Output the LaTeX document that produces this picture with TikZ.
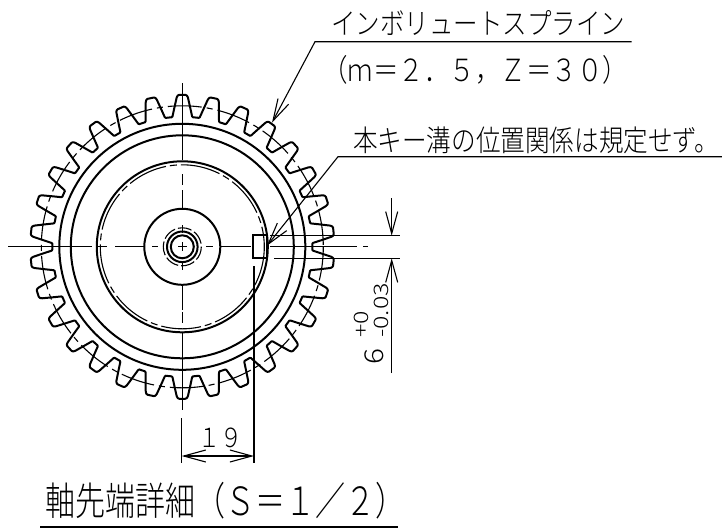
\documentclass[tikz,border=0pt]{standalone}
\usepackage{fontspec}
\usetikzlibrary{arrows.meta}
\newfontfamily\jpfont{Noto Sans CJK JP Light}
\tikzset{
	thick line/.style={line width=2pt},
	thin line/.style={line width=1.1pt},
	dim arrow/.style={thin line,-{Straight Barb[length=22pt,width=12pt]}},
	label text/.style={inner sep=0pt,font=\jpfont\fontsize{25.5}{25.5}\selectfont,yscale=1.2},
	small text/.style={inner sep=0pt,rotate=90,xscale=1.25,anchor=west,font=\jpfont\fontsize{20}{20}\selectfont},
}
\begin{document}
\begin{tikzpicture}[x=1pt,y=-1pt]
	\useasboundingbox (0,0) rectangle (722,531);
	\coordinate (hub) at (182.3,246.8);

	\begin{scope}[shift={(hub)}]
		\draw [thick line,rounded corners=.8pt,line join=round] (82.9:130)
			\foreach \t in {0,...,29} {
				-- ({90+12*\t-4.4}:130) -- ({90+12*\t-3.3}:139) -- ({90+12*\t-2.1}:150) -- ({90+12*\t-1.5}:152)
				-- ({90+12*\t+1.5}:152) -- ({90+12*\t+2.1}:150) -- ({90+12*\t+3.3}:139) -- ({90+12*\t+4.4}:130)
				-- ({90+12*\t+7.1}:130)
			} -- cycle;
		\draw [thin line,dash pattern=on 34pt off 5pt on 6pt off 5pt] (0,0) circle (141);
		\draw [thick line] (0,0) circle (123);
		\draw [thick line] (0,0) circle (111.5);
		\draw [thick line] (0,0) circle (85.5);
		\draw [thin line,dash pattern=on 40pt off 4pt on 7pt off 4pt] (0,0) circle (82);
		\draw [thick line] (0,0) circle (38);
		\draw [thin line,dash pattern=on 14pt off 3pt] (0,0) circle (19);
		\draw [thick line] (0,0) circle (15.3);
		\draw [thick line] (0,0) circle (11.5);
	\end{scope}

	\foreach \a/\b in {8/92,98/107,115/144,152/158,178/187,206/213,221/251,270/357,363/368}
		\draw [thin line] (\a,246.8) -- (\b,246.8);
	\foreach \a/\b in {83/160,174/185,190/209,225/233,242/251,262/270,285/310,312/323,332/410}
		\draw [thin line] (182.3,\a) -- (182.3,\b);

	\node [draw,thick line,minimum width=14pt,minimum height=23pt,inner sep=0pt] (keyslot) at (260.2,246.8) {};

	\node [label text,anchor=south,font=\jpfont\fontsize{24.5}{24.5}\selectfont] (splinename) at (478,36) {インボリュートスプライン};
	\node [label text] (splinedata) at (475,70) {（ｍ＝２．５，Ｚ＝３０）};
	\node [label text,anchor=south west,font=\jpfont\fontsize{24.6}{24.6}\selectfont] (keynote) at (352.8,154) {本キー溝の位置関係は規定せず。};
	\node [label text,font=\jpfont\fontsize{22}{22}\selectfont] (pitchdim) at (220,438) {１９};
	\node [inner sep=0pt,rotate=90,xscale=1.15,font=\jpfont\fontsize{26}{26}\selectfont] (widthdim) at (374,356) {6};
	\node [small text] (upperdev) at (361.7,338) {+0};
	\node [small text] (lowerdev) at (381,338) {-0.03};
	\node [anchor=west,inner sep=0pt,font=\jpfont\fontsize{30}{30}\selectfont,yscale=1.3] (title) at (45,501) {軸先端詳細（Ｓ＝１／２）};

	\coordinate (splinestart) at (631.7,41.7);
	\coordinate (splinebend) at (315,41.7);
	\coordinate (splinetip) at (272,122.7);
	\draw [dim arrow] (splinestart) -- (splinebend) -- (splinetip);

	\coordinate (keystart) at (722,156.7);
	\coordinate (keybend) at (338,156.7);
	\coordinate (keytip) at (267,245.7);
	\draw [dim arrow] (keystart) -- (keybend) -- (keytip);

	\coordinate (widthtopa) at (270,235.7);
	\coordinate (widthtopb) at (400,235.7);
	\coordinate (widthbota) at (274,258.3);
	\coordinate (widthbotb) at (400,258.3);
	\draw [thin line] (widthtopa) -- (widthtopb);
	\draw [thin line] (widthbota) -- (widthbotb);
	\coordinate (widthupper) at (391.7,198);
	\coordinate (widthuppertip) at (391.7,235.7);
	\coordinate (widthlower) at (391.7,373);
	\coordinate (widthlowertip) at (391.7,258.3);
	\draw [dim arrow] (widthupper) -- (widthuppertip);
	\draw [dim arrow] (widthlower) -- (widthlowertip);

	\coordinate (pitchleftup) at (181.7,418);
	\coordinate (pitchleftdown) at (181.7,463);
	\coordinate (pitchrightup) at (254,266);
	\coordinate (pitchrightdown) at (254,463);
	\coordinate (pitchleft) at (181.7,456);
	\coordinate (pitchright) at (254,456);
	\draw [thin line] (pitchleftup) -- (pitchleftdown);
	\draw [thin line] (pitchrightup) -- (pitchrightdown);
	\draw [thin line,{Straight Barb[length=22pt,width=12pt]}-{Straight Barb[length=22pt,width=12pt]}] (pitchleft) -- (pitchright);

	\coordinate (titlelinea) at (40,527);
	\coordinate (titlelineb) at (398,527);
	\draw [line width=2pt] (titlelinea) -- (titlelineb);
\end{tikzpicture}
\end{document}
